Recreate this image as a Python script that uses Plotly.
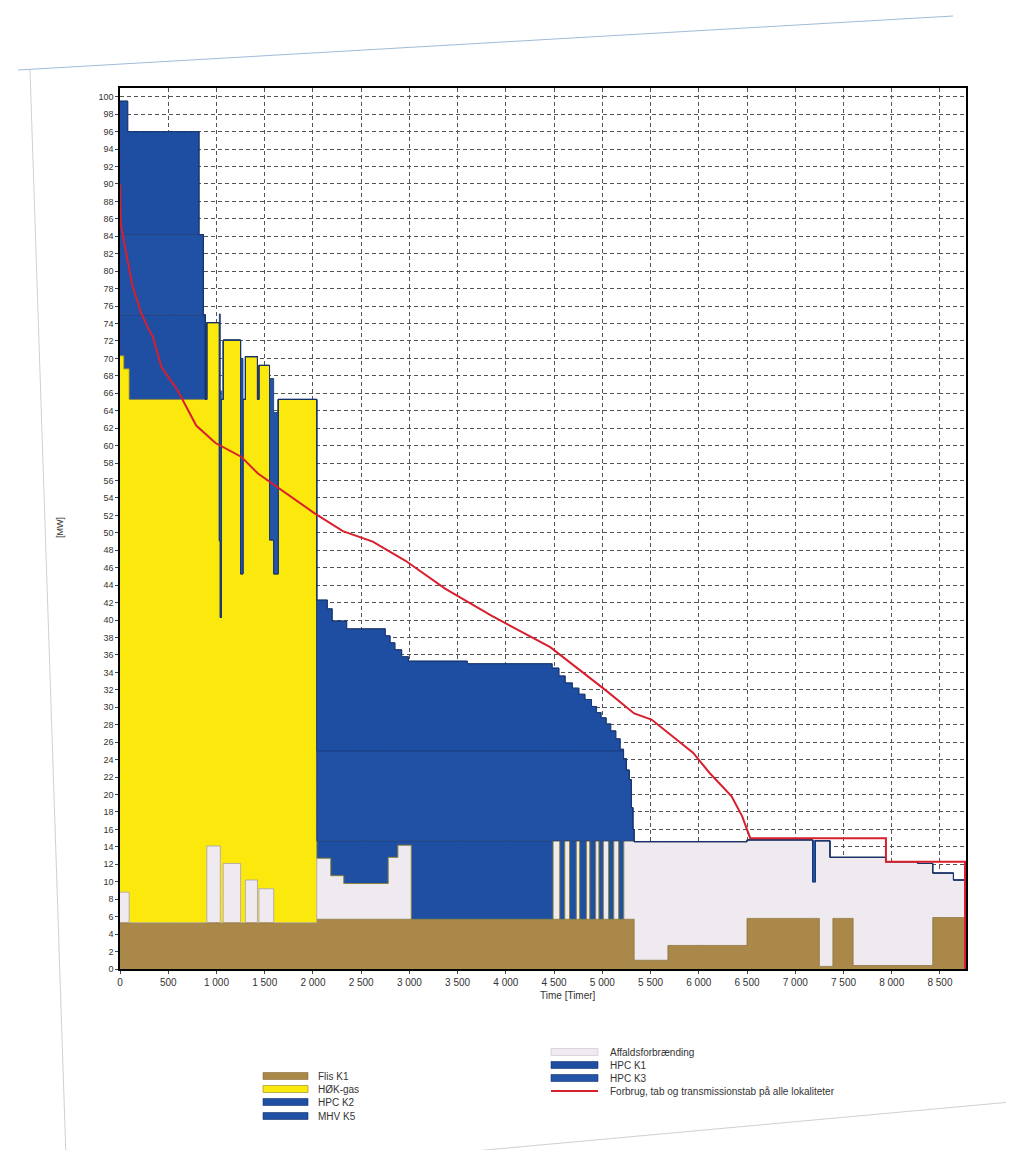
import numpy as np
import plotly.graph_objects as go

# ---------------- data (hours, MW) ----------------
# each production series: step breakpoints (hours) and value per step (MW)
flis_h = [0, 2040, 5330, 5680, 6500, 7250, 7390, 7600, 8425, 8760]
flis_v = [5.3, 5.7, 1.0, 2.7, 5.8, 0.3, 5.8, 0.4, 5.9]

affald_h = [0, 95, 900, 1040, 1070, 1250, 1300, 1425, 1440, 1593, 2040, 2185, 2320, 2780,
            2880, 3020, 4489, 4559, 4610, 4660, 4730, 4765, 4835, 4870, 4930, 4965, 5010,
            5065, 5118, 5170, 5222, 5330, 5680, 6500, 7180, 7210, 7250, 7360, 7390, 7600,
            7940, 8270, 8425, 8640, 8760]
affald_v = [3.5, 0, 8.8, 0, 6.8, 0, 4.9, 0, 3.9, 0, 7.0, 5.0, 4.1, 7.1,
            8.5, 0, 9.0, 0, 9.0, 0, 9.0, 0, 9.0, 0, 9.0, 0, 9.0,
            0, 9.0, 0, 9.0, 13.6, 11.9, 9.0, 4.2, 8.9, 14.4, 12.5, 7.0, 12.4,
            11.9, 11.7, 5.1, 4.3]

hok_h = [0, 40, 95, 885, 900, 1030, 1050, 1250, 1275, 1550, 1640, 2040, 8760]
hok_v = [61.5, 60, 60, 60, 60, 35, 60, 40, 60, 40, 60, 0]

hpck2_h = [0, 40, 95, 885, 2040, 2185, 2320, 2780, 2880, 3020, 4489, 4559, 4610, 4660,
           4730, 4765, 4835, 4870, 4930, 4965, 5010, 5065, 5118, 5170, 5222, 8760]
hpck2_v = [4.7, 6.2, 9.7, 0, 2.0, 4.0, 4.9, 1.9, 0.5, 9.0, 0, 9.0, 0, 9.0,
           0, 9.0, 0, 9.0, 0, 9.0, 0, 9.0, 0, 9.0, 0]

mhv_h = [0, 865, 2040, 5220, 5249, 5280, 5302, 5318, 5330, 8760]
mhv_v = [9.2, 0, 10.3, 9.4, 8.1, 7.0, 3.8, 1.3, 0]

hpck1_h = [0, 80, 820, 2040, 2150, 2200, 2350, 2750, 2800, 2850, 2920, 2990, 3600, 4480,
           4550, 4615, 4690, 4757, 4820, 4888, 4940, 4987, 5040, 5087, 5140, 5185, 5220, 8760]
hpck1_v = [15.3, 11.8, 0, 17.3, 16.3, 14.9, 14.0, 13.2, 12.4, 11.6, 10.8, 10.3, 10.0,
           9.5, 8.6, 7.8, 7.2, 6.5, 5.9, 5.1, 4.4, 3.8, 3.1, 2.3, 1.4, 0.2, 0]

hpck3_h = [0, 1030, 1050, 1250, 1275, 1550, 1640, 7180, 7210, 8760]
hpck3_v = [0, 26, 0, 24.7, 0, 18.5, 0, 4.7, 0]

# demand duration curve (red line)
red_h = [0, 8, 60, 130, 220, 290, 340, 430, 600, 790, 990, 1260, 1430, 1700, 2010, 2310,
         2620, 2960, 3370, 3850, 4460, 5030, 5330, 5510, 5940, 6110, 6340, 6450, 6533,
         7940, 7940, 8760, 8760]
red_v = [90, 85.5, 82.3, 78.3, 75.2, 73.5, 72.5, 69, 66.3, 62.3, 60.3, 58.7, 56.8, 54.7,
         52.3, 50.2, 49, 46.8, 43.6, 40.5, 36.9, 32.0, 29.3, 28.6, 24.8, 22.5, 19.8, 17.5,
         15.0, 15.0, 12.3, 12.3, 0]

x_ticks = [0, 500, 1000, 1500, 2000, 2500, 3000, 3500, 4000, 4500, 5000, 5500, 6000,
           6500, 7000, 7500, 8000, 8500]
x_ticktext = ["0", "500", "1 000", "1 500", "2 000", "2 500", "3 000", "3 500", "4 000",
              "4 500", "5 000", "5 500", "6 000", "6 500", "7 000", "7 500", "8 000", "8 500"]
y_ticks = list(range(0, 101, 2))

# ---------------- build common step grid ----------------
grid = np.array(sorted(set(flis_h + affald_h + hok_h + hpck2_h + mhv_h + hpck1_h + hpck3_h)))


def steps(hs, vs):
    idx = np.searchsorted(np.array(hs), grid, side="right") - 1
    idx = np.clip(idx, 0, len(vs) - 1)
    return np.array(vs, dtype=float)[idx]


# name, hours, values, fill, edge, legend column, legend row
series = [
    ("Flis K1", flis_h, flis_v, "#a9884a", "#8a6d35", 0, 0),
    ("Affaldsforbrænding", affald_h, affald_v, "#eeeaf0", "#a99fb0", 1, 0),
    ("HØK-gas", hok_h, hok_v, "#fbe80c", "#8f8420", 0, 1),
    ("HPC K2", hpck2_h, hpck2_v, "#1f4fa3", "#16336e", 0, 2),
    ("MHV K5", mhv_h, mhv_v, "#2051a5", "#16336e", 0, 3),
    ("HPC K1", hpck1_h, hpck1_v, "#1e4ea2", "#16336e", 1, 1),
    ("HPC K3", hpck3_h, hpck3_v, "#2354a8", "#16336e", 1, 2),
]
red_name = "Forbrug, tab og transmissionstab på alle lokaliteter"

fig = go.Figure()
for name, hs, vs, fc, lc, col, row in series:
    fig.add_trace(go.Scatter(
        x=grid, y=steps(hs, vs), name=name, mode="lines",
        stackgroup="prod", line=dict(shape="hv", width=0.8, color=lc),
        fillcolor=fc, showlegend=False, hoverinfo="skip"))

fig.add_trace(go.Scatter(
    x=red_h, y=red_v, mode="lines", name=red_name,
    line=dict(color="#d81f2e", width=2), showlegend=False, hoverinfo="skip"))

# ---------------- layout ----------------
W, H = 1014, 1150
ML, MR, MT, MB = 112, 56, 80, 189
PW, PH = W - ML - MR, H - MT - MB


def px(xp):
    return (xp - ML) / PW


def py(yp):
    return (H - MB - yp) / PH


font = "Liberation Sans, Arial, sans-serif"

# legend drawn as swatches + text (two columns as in the reference)
col_x = [(255, 300, 308), (543, 590, 600)]
row_y = [[1068, 1081, 1094, 1108], [1044, 1057, 1070, 1083]]
shapes = []
annotations = []
for name, hs, vs, fc, lc, col, row in series:
    x0, x1, tx = col_x[col]
    yc = row_y[col][row]
    shapes.append(dict(type="rect", xref="paper", yref="paper",
                       x0=px(x0), x1=px(x1), y0=py(yc + 3.5), y1=py(yc - 3.5),
                       fillcolor=fc, line=dict(color=lc if col == 0 or row else "#c9bfd0", width=0.6)))
    annotations.append(dict(text=name, x=px(tx), y=py(yc), xref="paper", yref="paper",
                            xanchor="left", yanchor="middle", showarrow=False,
                            font=dict(size=10, color="#333")))
x0, x1, tx = col_x[1]
yc = row_y[1][3]
shapes.append(dict(type="line", xref="paper", yref="paper", x0=px(x0), x1=px(x1),
                   y0=py(yc), y1=py(yc), line=dict(color="#d81f2e", width=2)))
annotations.append(dict(text=red_name, x=px(tx), y=py(yc), xref="paper", yref="paper",
                        xanchor="left", yanchor="middle", showarrow=False,
                        font=dict(size=10, color="#333")))

annotations += [
    dict(text="Time [Timer]", x=px(560), y=py(995), xref="paper", yref="paper",
         showarrow=False, font=dict(size=10, color="#333")),
    dict(text="[MW]", x=px(45), y=py(520), xref="paper", yref="paper",
         showarrow=False, textangle=-90, font=dict(size=9, color="#333")),
]
shapes += [
    dict(type="line", xref="paper", yref="paper", x0=px(10), y0=py(62), x1=px(945), y1=py(8),
         line=dict(color="#9fbbd8", width=1)),
    dict(type="line", xref="paper", yref="paper", x0=px(22), y0=py(62), x1=px(58), y1=py(1150),
         line=dict(color="#cfcfd6", width=1)),
    dict(type="line", xref="paper", yref="paper", x0=px(390), y0=py(1150), x1=px(1014), y1=py(1093),
         line=dict(color="#cfcfd6", width=1)),
]

fig.update_layout(
    width=W, height=H,
    margin=dict(l=ML, r=MR, t=MT, b=MB),
    paper_bgcolor="white", plot_bgcolor="white",
    font=dict(family=font, size=10, color="#222"),
    showlegend=False,
    xaxis=dict(range=[0, 8770], tickvals=x_ticks, ticktext=x_ticktext,
               showgrid=True, gridcolor="#555", gridwidth=0.6, griddash="4px,3px",
               showline=True, linecolor="black", linewidth=1.5, mirror=True,
               ticks="outside", ticklen=3, tickfont=dict(size=10, color="#333"),
               zeroline=False),
    yaxis=dict(range=[0, 101], tickvals=y_ticks,
               showgrid=True, gridcolor="#555", gridwidth=0.6, griddash="4px,3px",
               showline=True, linecolor="black", linewidth=1.5, mirror=True,
               ticks="outside", ticklen=3, tickfont=dict(size=9, color="#333"),
               zeroline=False),
    annotations=annotations,
    shapes=shapes,
)

fig.write_html("out.html")
